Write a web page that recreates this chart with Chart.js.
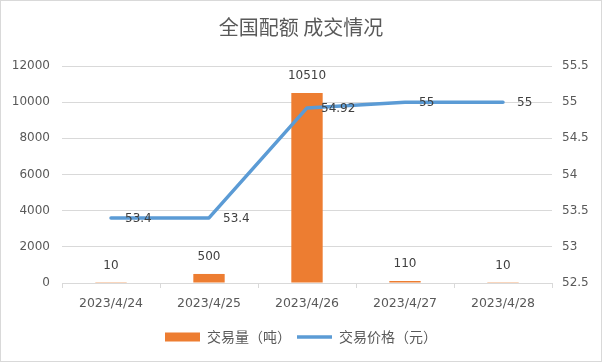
<!DOCTYPE html>
<html><head><meta charset="utf-8">
<script src="https://cdn.jsdelivr.net/npm/chart.js@4/dist/chart.umd.min.js"></script>
<style>html,body{margin:0;padding:0;background:#fff}#c{display:block}</style>
</head><body>
<canvas id="c" width="602" height="362"></canvas>
<script>
const titleText = '全国配额 成交情况';
const categories = ['2023/4/24','2023/4/25','2023/4/26','2023/4/27','2023/4/28'];
const volumeLabel = '交易量（吨）';
const volumes = [10, 500, 10510, 110, 10];
const priceLabel = '交易价格（元）';
const prices = [53.4, 53.4, 54.92, 55, 55];

const NUM_FONT = '"DejaVu Sans", sans-serif';
const CJK_FONT = '"Noto Sans CJK SC", sans-serif';

const frame = {
  id: 'frame',
  beforeDraw(chart) {
    const c = chart.ctx;
    c.save();
    c.fillStyle = '#fff';
    c.fillRect(0, 0, chart.width, chart.height);
    c.strokeStyle = '#d9d9d9';
    c.lineWidth = 1;
    c.strokeRect(0.5, 0.5, chart.width - 1, chart.height - 1);
    c.restore();
  }
};

const valueLabels = {
  id: 'valueLabels',
  afterDatasetsDraw(chart) {
    const c = chart.ctx;
    c.save();
    c.font = '12px ' + NUM_FONT;
    c.fillStyle = '#404040';
    chart.data.datasets.forEach((ds, di) => {
      const meta = chart.getDatasetMeta(di);
      meta.data.forEach((el, i) => {
        const v = ds.data[i];
        if (ds.type === 'bar') {
          c.textAlign = 'center';
          c.textBaseline = 'bottom';
          c.fillText(String(v), el.x, el.y - 11);
        } else {
          c.textAlign = 'left';
          c.textBaseline = 'middle';
          c.fillText(String(v), el.x + 14, el.y + 1);
        }
      });
    });
    c.restore();
  }
};

new Chart(document.getElementById('c'), {
  data: {
    labels: categories,
    datasets: [
      {
        type: 'bar', label: volumeLabel, data: volumes, yAxisID: 'y',
        backgroundColor: '#ED7D31', borderWidth: 0, pointStyle: 'rect',
        categoryPercentage: 0.8, barPercentage: 0.4, order: 1
      },
      {
        type: 'line', label: priceLabel, data: prices, yAxisID: 'y1',
        borderColor: '#5B9BD5', backgroundColor: '#5B9BD5', borderWidth: 3.5,
        pointRadius: 0, pointHoverRadius: 0, tension: 0, pointStyle: 'line',
        borderCapStyle: 'round', borderJoinStyle: 'round', order: 0
      }
    ]
  },
  options: {
    responsive: false,
    animation: false,
    layout: { padding: { left: 0, right: 0, top: 0, bottom: 8 } },
    plugins: {
      title: {
        display: true, text: titleText, color: '#595959',
        font: { family: CJK_FONT, size: 20, weight: 'normal' },
        padding: { top: 15, bottom: 27 }
      },
      legend: {
        position: 'bottom',
        labels: {
          usePointStyle: true, pointStyleWidth: 35, boxHeight: 9,
          color: '#595959', padding: 6,
          font: { family: CJK_FONT, size: 14 },
          sort: (a, b) => a.datasetIndex - b.datasetIndex
        }
      },
      tooltip: { enabled: false }
    },
    scales: {
      x: {
        offset: true,
        grid: { display: true, drawOnChartArea: false, offset: true, color: '#d9d9d9', tickLength: 5 },
        border: { display: true, color: '#d9d9d9' },
        ticks: { color: '#595959', font: { family: NUM_FONT, size: 12.5 }, padding: 8, maxRotation: 0 },
        afterFit(s) { s.height = 41; }
      },
      y: {
        position: 'left', min: 0, max: 12000,
        ticks: { stepSize: 2000, color: '#595959', font: { family: NUM_FONT, size: 12 }, padding: 12,
          callback: v => String(v) },
        grid: { color: '#d9d9d9', drawTicks: false },
        border: { display: false },
        afterFit(s) { s.width = 62; }
      },
      y1: {
        position: 'right', min: 52.5, max: 55.5,
        ticks: { stepSize: 0.5, color: '#595959', font: { family: NUM_FONT, size: 12 }, padding: 10,
          callback: v => String(v) },
        grid: { drawOnChartArea: false, drawTicks: false },
        border: { display: false },
        afterFit(s) { s.width = 50; }
      }
    }
  },
  plugins: [frame, valueLabels]
});
</script>
</body></html>
